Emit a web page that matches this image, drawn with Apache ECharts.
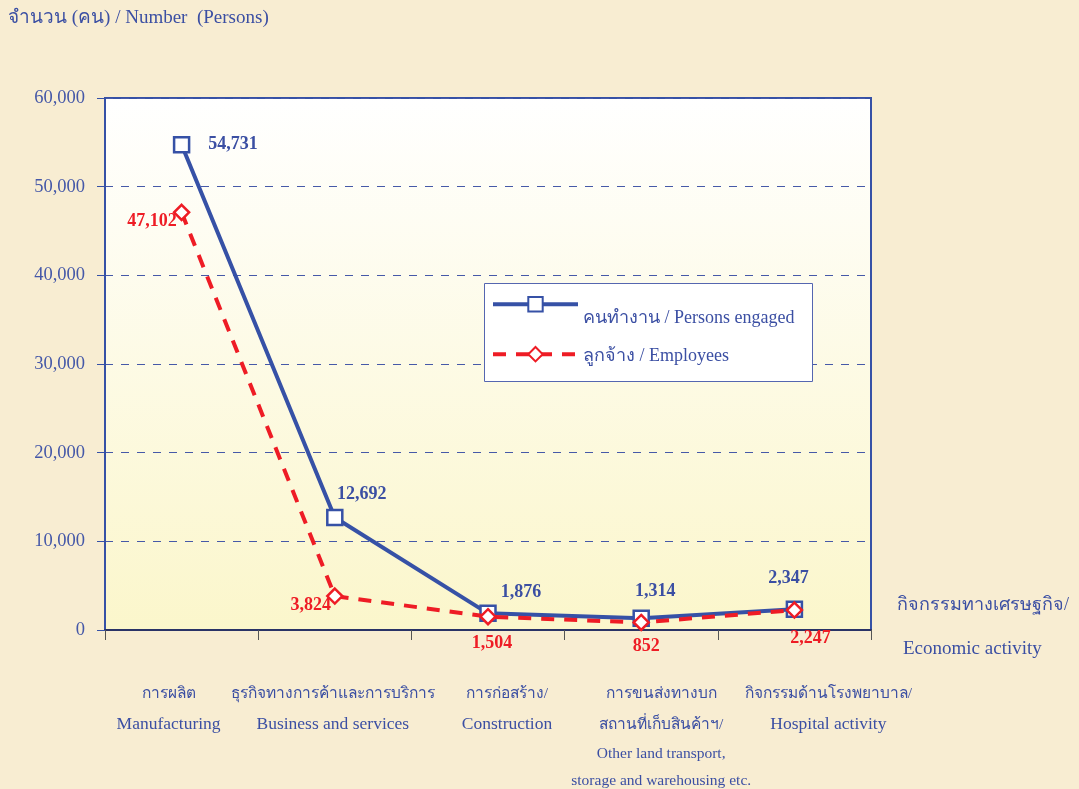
<!DOCTYPE html>
<html>
<head>
<meta charset="utf-8">
<script src="https://cdn.jsdelivr.net/npm/echarts@6/dist/echarts.min.js"></script>
<style>
html,body{margin:0;padding:0;background:#F8EDD2;}
#c{width:1079px;height:789px;}
</style>
</head>
<body>
<div id="c"></div>
<script>
const categoriesThai = ['การผลิต', 'ธุรกิจทางการค้าและการบริการ', 'การก่อสร้าง/', 'การขนส่งทางบก\nสถานที่เก็บสินค้าฯ/', 'กิจกรรมด้านโรงพยาบาล/'];
const categoriesEng = ['Manufacturing', 'Business and services', 'Construction', 'Other land transport,\nstorage and warehousing etc.', 'Hospital activity'];
const personsEngaged = [54731, 12692, 1876, 1314, 2347];
const employees = [47102, 3824, 1504, 852, 2247];
const yTicks = [0, 10000, 20000, 30000, 40000, 50000, 60000];
const seriesNames = ['คนทำงาน / Persons engaged', 'ลูกจ้าง / Employees'];

// layout (styles, not data)
const categoryLabelShift = [-13, -2, 19, 20, 34];
const blueLabelLayout = [
  {position: 'right', distance: 18, offset: [0, 0]},
  {position: 'top', distance: 5, offset: [27, 0]},
  {position: 'top', distance: 5, offset: [33, 2]},
  {position: 'top', distance: 5, offset: [14, -4]},
  {position: 'top', distance: 5, offset: [-6, -8]}
];
const redLabelLayout = [
  {position: 'left', distance: 5, offset: [9, 9]},
  {position: 'left', distance: 5, offset: [10, 9]},
  {position: 'bottom', distance: 5, offset: [4, 4]},
  {position: 'bottom', distance: 5, offset: [5, 1]},
  {position: 'bottom', distance: 5, offset: [16, 6]}
];

const FONT = '"Liberation Serif", "Times New Roman", serif';
const BLUE = '#3651A6';
const TXT = '#3B4FA3';
const RED = '#EE1C25';
const fmt = v => v.toLocaleString('en-US');

function legendFor(name, top, shiftDown) {
  return {
    left: 486, top: top, z: 20,
    orient: 'vertical',
    itemWidth: 85, itemHeight: 18,
    data: [name],
    lineStyle: {width: 4},
    formatter: n => '{a|' + n + '}',
    textStyle: {
      fontFamily: FONT, fontSize: 18, color: TXT,
      rich: {a: {fontFamily: FONT, fontSize: 18, color: TXT, padding: [shiftDown * 2, 0, 0, 0]}}
    }
  };
}

const chart = echarts.init(document.getElementById('c'));
chart.setOption({
  backgroundColor: '#F8EDD2',
  textStyle: {fontFamily: FONT},
  animation: false,
  grid: {
    left: 105, right: 208, top: 98, bottom: 159,
    show: true,
    borderColor: BLUE, borderWidth: 2,
    backgroundColor: new echarts.graphic.LinearGradient(0, 0, 0, 1, [
      {offset: 0, color: '#FFFFFF'},
      {offset: 1, color: '#FBF6CB'}
    ])
  },
  legend: [legendFor(seriesNames[0], 291, 14), legendFor(seriesNames[1], 341, 2)],
  graphic: [
    {type: 'rect', left: 484, top: 283, z: 6, shape: {width: 328, height: 98},
      style: {fill: '#FFFFFF', stroke: '#5566B0', lineWidth: 1}},
    {type: 'text', left: 8, top: 9, style: {text: 'จำนวน (คน) / Number  (Persons)', font: '19px ' + FONT, fill: TXT}},
    {type: 'text', left: 897, top: 596, style: {text: 'กิจกรรมทางเศรษฐกิจ/', font: '18px ' + FONT, fill: TXT}},
    {type: 'text', left: 903, top: 640, style: {text: 'Economic activity', font: '19px ' + FONT, fill: TXT}}
  ],
  xAxis: {
    type: 'category',
    data: categoriesThai.map((t, i) => {
      const s = categoryLabelShift[i];
      return {
        value: t + '|' + categoriesEng[i],
        textStyle: {padding: s >= 0 ? [0, 0, 0, 2 * s] : [0, -2 * s, 0, 0]}
      };
    }),
    boundaryGap: true,
    axisLine: {lineStyle: {color: '#2A3366', width: 2}},
    axisTick: {show: true, length: 10, lineStyle: {color: '#555555', width: 1}},
    axisLabel: {
      interval: 0, margin: 48,
      formatter: function (v) {
        const parts = v.split('|');
        const th = parts[0].split('\n').map(s => '{t|' + s + '}');
        const enLines = parts[1].split('\n');
        const st = enLines.length > 1 ? 'b' : 'a';
        const en = enLines.map(s => '{' + st + '|' + s + '}');
        return th.concat(en).join('\n');
      },
      rich: {
        t: {fontFamily: FONT, fontSize: 15.5, color: TXT, lineHeight: 31},
        a: {fontFamily: FONT, fontSize: 17.5, color: TXT, lineHeight: 31},
        b: {fontFamily: FONT, fontSize: 15.5, color: TXT, lineHeight: 27}
      }
    }
  },
  yAxis: {
    type: 'value',
    min: yTicks[0], max: yTicks[yTicks.length - 1], interval: yTicks[1] - yTicks[0],
    axisLine: {show: true, lineStyle: {color: BLUE, width: 2}},
    axisTick: {show: true, length: 8, lineStyle: {color: BLUE, width: 1}},
    axisLabel: {margin: 20, fontFamily: FONT, fontSize: 18.5, color: '#4558A8', formatter: v => fmt(v)},
    splitLine: {show: true, lineStyle: {color: '#4659A8', type: [8, 8], width: 1}}
  },
  series: [
    {
      name: seriesNames[0], type: 'line', z: 3,
      symbol: 'rect', symbolSize: 15,
      itemStyle: {color: '#FFFFFF', borderColor: BLUE, borderWidth: 2.5},
      lineStyle: {color: BLUE, width: 4},
      data: personsEngaged.map((v, i) => ({
        value: v,
        label: Object.assign({show: true, formatter: p => fmt(p.value), fontFamily: FONT, fontWeight: 'bold', fontSize: 18, color: TXT}, blueLabelLayout[i])
      }))
    },
    {
      name: seriesNames[1], type: 'line', z: 4,
      symbol: 'diamond', symbolSize: 15,
      itemStyle: {color: '#FFFFFF', borderColor: RED, borderWidth: 2.5},
      lineStyle: {color: RED, width: 4, type: [13, 10]},
      data: employees.map((v, i) => ({
        value: v,
        label: Object.assign({show: true, formatter: p => fmt(p.value), fontFamily: FONT, fontWeight: 'bold', fontSize: 18, color: RED}, redLabelLayout[i])
      }))
    }
  ]
});
</script>
</body>
</html>
